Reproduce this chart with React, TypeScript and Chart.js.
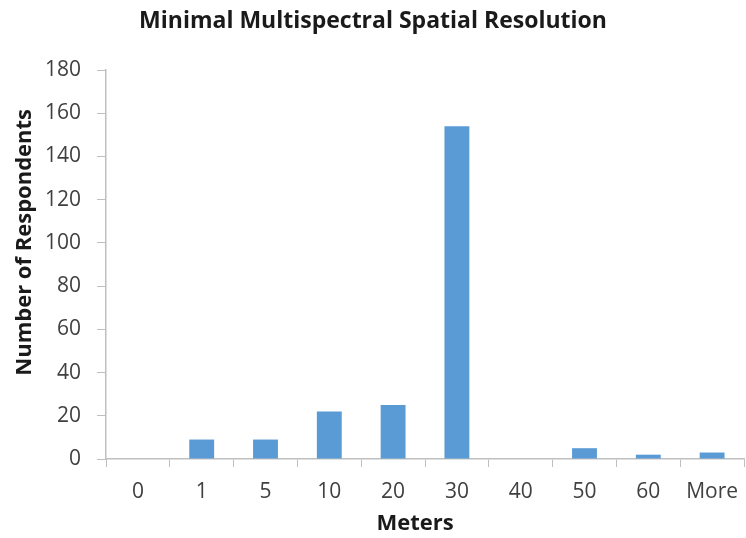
import React, { useEffect, useRef } from 'react';
import { Chart, registerables } from 'chart.js';

Chart.register(...registerables);

const categories = ['0', '1', '5', '10', '20', '30', '40', '50', '60', 'More'];
const respondents = [0, 9, 9, 22, 25, 154, 0, 5, 2, 3];
const yMin = 0;
const yMax = 180;
const yStep = 20;
const chartTitle = 'Minimal Multispectral Spatial Resolution';
const xAxisTitle = 'Meters';
const yAxisTitle = 'Number of Respondents';

const FONT = '"Open Sans"';

const titlesPlugin = {
  id: 'excelTitles',
  afterDraw(chart: any) {
    const { ctx, chartArea } = chart;
    ctx.save();
    ctx.fillStyle = '#1a1a1a';
    ctx.textAlign = 'center';
    ctx.textBaseline = 'alphabetic';
    ctx.font = `bold 23px ${FONT}`;
    ctx.fillText(chartTitle, chart.width / 2, 28);
    ctx.font = `bold 22px ${FONT}`;
    ctx.fillText(xAxisTitle, (chartArea.left + chartArea.right) / 2 - 10, 530);
    ctx.translate(31, chartArea.top + (chartArea.bottom - chartArea.top) * 0.443);
    ctx.rotate(-Math.PI / 2);
    ctx.fillText(yAxisTitle, 0, 0);
    ctx.restore();
  },
};

export default function App() {
  const ref = useRef<HTMLCanvasElement>(null);

  useEffect(() => {
    const prevMargin = document.body.style.margin;
    document.body.style.margin = '0';
    const canvas = ref.current!;
    const chart = new Chart(canvas, {
      type: 'bar',
      data: {
        labels: categories,
        datasets: [
          {
            data: respondents,
            backgroundColor: '#5b9bd5',
            borderWidth: 0,
            categoryPercentage: 1,
            barPercentage: 0.39,
          },
        ],
      },
      options: {
        responsive: false,
        animation: false,
        devicePixelRatio: 1,
        layout: { padding: { top: 70, right: 2, left: 0, bottom: 0 } },
        plugins: {
          legend: { display: false },
          title: { display: false },
          tooltip: { enabled: false },
        },
        scales: {
          x: {
            afterFit(scale: any) {
              scale.height = 79;
              scale.paddingLeft = 0;
              scale.paddingRight = 0;
            },
            grid: {
              offset: true,
              drawOnChartArea: false,
              drawTicks: true,
              tickLength: 8,
              color: '#bfbfbf',
              lineWidth: 1,
            },
            border: { color: '#bfbfbf', width: 1.5 },
            ticks: {
              color: '#404040',
              font: { family: FONT, size: 21 },
              padding: 12,
              maxRotation: 0,
              autoSkip: false,
            },
          },
          y: {
            min: yMin,
            max: yMax,
            afterFit(scale: any) {
              scale.width = 106;
            },
            grid: {
              drawOnChartArea: false,
              drawTicks: true,
              tickLength: 9,
              color: '#bfbfbf',
              lineWidth: 1,
            },
            border: { color: '#bfbfbf', width: 1.5 },
            ticks: {
              stepSize: yStep,
              color: '#404040',
              font: { family: FONT, size: 21 },
              padding: 16,
            },
          },
        },
      },
      plugins: [titlesPlugin],
    });
    return () => {
      chart.destroy();
      document.body.style.margin = prevMargin;
    };
  }, []);

  return (
    <div style={{ position: 'fixed', left: 0, top: 0, width: 746, height: 538, background: '#fff' }}>
      <canvas ref={ref} width={746} height={538} style={{ width: 746, height: 538 }} />
    </div>
  );
}
